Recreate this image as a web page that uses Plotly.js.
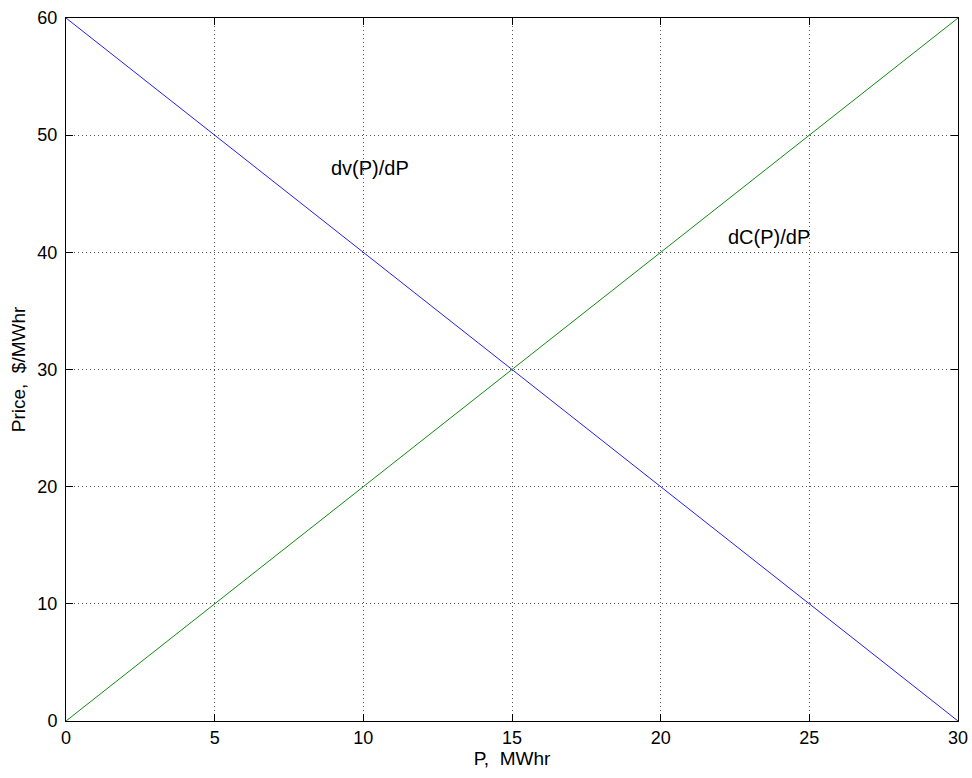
<!DOCTYPE html>
<html>
<head>
<meta charset="utf-8">
<script src="https://cdn.plot.ly/plotly-3.0.1.min.js"></script>
<style>html,body{margin:0;padding:0;background:#fff;}#chart{width:972px;height:778px;}</style>
</head>
<body>
<div id="chart"></div>
<script>
const powerMWh = [0, 5, 10, 15, 20, 25, 30];
const marginalValue = [60, 50, 40, 30, 20, 10, 0];
const marginalCost = [0, 10, 20, 30, 40, 50, 60];
const labelTexts = ["dv(P)/dP", "dC(P)/dP"];
const labelX = [8.85, 22.2];
const labelY = [47.2, 41.3];

const font = "Liberation Sans, Arial, sans-serif";
const traces = [
  {x: powerMWh, y: marginalValue, mode: "lines", line: {color: "#2020ee", width: 1}, name: "dv(P)/dP"},
  {x: powerMWh, y: marginalCost, mode: "lines", line: {color: "#108a10", width: 1}, name: "dC(P)/dP"}
];
const axisCommon = {
  showline: true, linecolor: "#000", linewidth: 1, mirror: "ticks",
  ticks: "inside", ticklen: 7, tickcolor: "#000",
  showgrid: true, gridcolor: "#555", griddash: "1px,3px", gridwidth: 1,
  zeroline: false, tickfont: {family: font, size: 18, color: "#000"}
};
const layout = {
  width: 972, height: 778,
  margin: {l: 66, r: 14, t: 18, b: 57},
  paper_bgcolor: "#fff", plot_bgcolor: "#fff",
  showlegend: false,
  font: {family: font, color: "#000"},
  xaxis: Object.assign({}, axisCommon, {range: [0, 30], dtick: 5,
    title: {text: "P,\u00a0 MWhr", font: {family: font, size: 19}, standoff: 2}}),
  yaxis: Object.assign({}, axisCommon, {range: [0, 60], dtick: 10, ticklabelstandoff: 4,
    title: {text: "Price,\u00a0 $/MWhr", font: {family: font, size: 19}, standoff: 6}}),
  annotations: labelTexts.map((t, i) => ({
    x: labelX[i], y: labelY[i], xref: "x", yref: "y", text: t, showarrow: false,
    xanchor: "left", yanchor: "middle", font: {family: font, size: 20, color: "#000"}
  }))
};
Plotly.newPlot("chart", traces, layout, {displayModeBar: false, staticPlot: true});
</script>
</body>
</html>
